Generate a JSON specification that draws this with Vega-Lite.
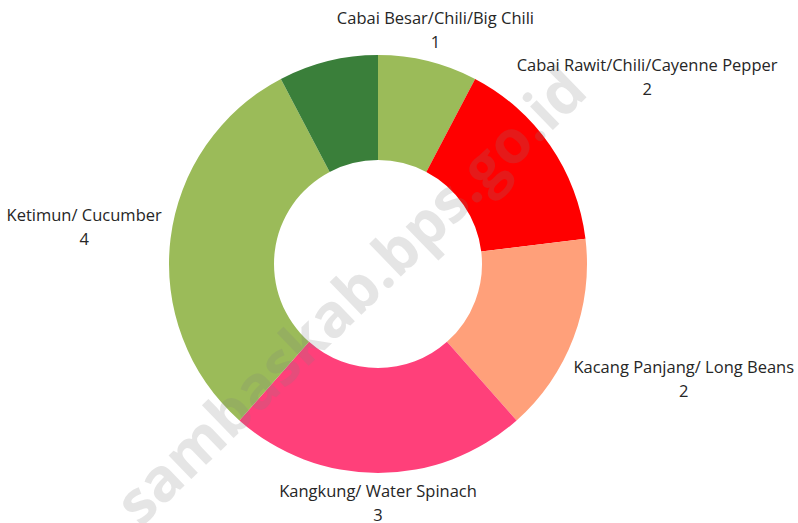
{
  "$schema": "https://vega.github.io/schema/vega-lite/v6.json",
  "width": 756,
  "height": 518,
  "autosize": "none",
  "padding": {"left": 0, "right": 42, "top": 5, "bottom": 0},
  "background": "white",
  "config": {"view": {"stroke": null}},
  "data": {
    "values": [
      {"order": 1, "category": "Cabai Besar/Chili/Big Chili", "value": 1},
      {"order": 2, "category": "Cabai Rawit/Chili/Cayenne Pepper", "value": 2},
      {"order": 3, "category": "Kacang Panjang/ Long Beans", "value": 2},
      {"order": 4, "category": "Kangkung/ Water Spinach", "value": 3},
      {"order": 5, "category": "Ketimun/ Cucumber", "value": 4},
      {"order": 6, "category": "Lainnya", "value": 1}
    ]
  },
  "layer": [
    {
      "transform": [
        {"stack": "value", "groupby": [], "sort": [{"field": "order", "order": "ascending"}], "as": ["v0", "v1"]},
        {"calculate": "(datum.v0 + datum.v1) / 2", "as": "mid"},
        {"calculate": "[datum.category, '' + datum.value]", "as": "lbl"}
      ],
      "layer": [
        {
          "mark": {"type": "arc", "outerRadius": 209, "innerRadius": 104},
          "encoding": {
            "theta": {"field": "v0", "type": "quantitative", "stack": null, "scale": {"domain": [0, 13], "nice": false, "zero": true}},
            "theta2": {"field": "v1"},
            "color": {
              "field": "category",
              "type": "nominal",
              "legend": null,
              "scale": {
                "domain": ["Cabai Besar/Chili/Big Chili", "Cabai Rawit/Chili/Cayenne Pepper", "Kacang Panjang/ Long Beans", "Kangkung/ Water Spinach", "Ketimun/ Cucumber", "Lainnya"],
                "range": ["#9BBB59", "#FF0000", "#FFA07A", "#FF407A", "#9BBB59", "#3A7F3A"]
              }
            }
          }
        },
        {
          "transform": [{"filter": {"field": "category", "oneOf": ["Cabai Besar/Chili/Big Chili", "Kangkung/ Water Spinach"]}}],
          "mark": {"type": "text", "radius": 240, "dy": -12, "font": "Open Sans", "fontSize": 16.5, "lineHeight": 24, "align": "center", "baseline": "middle", "color": "#262626"},
          "encoding": {
            "theta": {"field": "mid", "type": "quantitative", "stack": null, "scale": {"domain": [0, 13], "nice": false, "zero": true}},
            "text": {"field": "lbl"}
          }
        },
        {
          "transform": [{"filter": {"field": "category", "oneOf": ["Cabai Rawit/Chili/Cayenne Pepper", "Kacang Panjang/ Long Beans"]}}],
          "mark": {"type": "text", "radius": 327, "dy": -12, "font": "Open Sans", "fontSize": 16.5, "lineHeight": 24, "align": "center", "baseline": "middle", "color": "#262626"},
          "encoding": {
            "theta": {"field": "mid", "type": "quantitative", "stack": null, "scale": {"domain": [0, 13], "nice": false, "zero": true}},
            "text": {"field": "lbl"}
          }
        },
        {
          "transform": [{"filter": {"field": "category", "oneOf": ["Ketimun/ Cucumber"]}}],
          "mark": {"type": "text", "radius": 296, "dy": -12, "font": "Open Sans", "fontSize": 16.5, "lineHeight": 24, "align": "center", "baseline": "middle", "color": "#262626"},
          "encoding": {
            "theta": {"field": "mid", "type": "quantitative", "stack": null, "scale": {"domain": [0, 13], "nice": false, "zero": true}},
            "text": {"field": "lbl"}
          }
        }
      ]
    },
    {
      "data": {"values": [{"wm": "sambaskab.bps.go.id"}]},
      "mark": {"type": "text", "angle": -44, "dx": -42, "dy": 7, "font": "Open Sans", "fontWeight": "bold", "fontSize": 60, "align": "center", "baseline": "middle", "color": "#808080", "opacity": 0.2},
      "encoding": {"text": {"field": "wm"}}
    }
  ]
}
